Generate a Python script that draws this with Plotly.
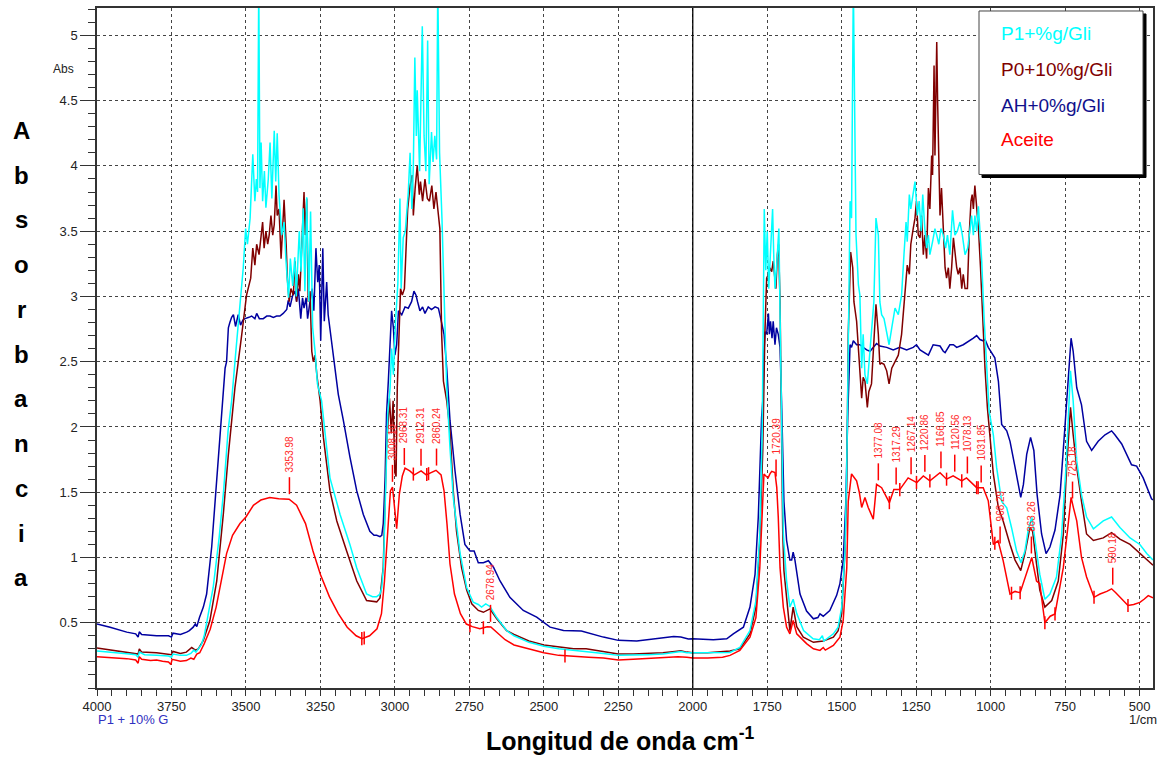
import numpy as np
import plotly.graph_objects as go

# ---------------- data (wavenumber cm-1, absorbance) ----------------
cyan_pts = [(4000,0.283),(3950,0.275),(3900,0.263),(3870,0.255),(3862,0.235),(3858,0.275),(3840,0.255),(3800,0.25),(3760,0.245),(3750,0.235),(3745,0.26),(3720,0.25),(3700,0.25),(3685,0.265),(3675,0.29),(3668,0.275),(3660,0.30),(3650,0.33),(3640,0.40),(3630,0.52),(3610,0.77),(3590,1.15),(3575,1.51),(3560,1.97),(3548,2.2),(3535,2.55),(3520,2.96),(3509,3.22),(3501,3.52),(3495,3.40),(3486,3.60),(3477,4.09),(3470,3.73),(3465,3.90),(3461,3.80),(3457,5.4),(3453,3.83),(3449,4.18),(3444,3.73),(3438,3.96),(3433,3.68),(3425,3.90),(3419,4.18),(3413,3.75),(3405,4.27),(3400,3.88),(3395,4.25),(3389,3.78),(3380,3.47),(3372,3.57),(3366,3.29),(3357,2.99),(3351,3.29),(3343,3.08),(3336,3.30),(3331,3.0),(3321,3.50),(3315,3.19),(3308,3.675),(3302,3.04),(3296,3.76),(3289,2.96),(3283,3.65),(3276,2.76),(3268,2.58),(3260,2.33),(3246,2.2),(3232,1.90),(3218,1.61),(3184,1.33),(3151,1.10),(3128,0.92),(3095,0.72),(3075,0.70),(3061,0.70),(3050,0.72),(3044,0.77),(3038,0.95),(3033,1.33),(3024,2.10),(3016,2.3),(3011,2.6),(3005,2.4),(2998,2.8),(2990,3.1),(2983,3.75),(2979,3.06),(2972,3.45),(2965,3.5),(2955,3.8),(2949,4.1),(2943,3.67),(2938,4.0),(2933,4.83),(2928,4.23),(2925,4.58),(2917,3.96),(2908,5.07),(2902,4.23),(2896,3.96),(2890,4.96),(2885,3.86),(2877,4.26),(2872,4.03),(2866,4.23),(2860,4.05),(2856,5.4),(2850,4.1),(2842,3.6),(2834,2.96),(2826,2.3),(2815,1.84),(2804,1.46),(2781,1.03),(2759,0.77),(2737,0.657),(2720,0.64),(2709,0.62),(2695,0.645),(2681,0.625),(2658,0.54),(2625,0.44),(2600,0.40),(2550,0.35),(2500,0.32),(2450,0.30),(2400,0.29),(2358,0.28),(2300,0.265),(2250,0.25),(2200,0.25),(2150,0.255),(2100,0.26),(2060,0.27),(2040,0.28),(2020,0.27),(2000,0.27),(1950,0.27),(1900,0.27),(1875,0.272),(1842,0.31),(1808,0.44),(1788,0.67),(1775,1.18),(1767,1.94),(1763,2.96),(1760,3.67),(1755,3.2),(1750,3.5),(1745,3.06),(1738,3.4),(1732,3.67),(1728,3.3),(1724,3.06),(1718,3.25),(1711,3.52),(1706,2.71),(1702,2.05),(1699,1.69),(1696,1.18),(1685,0.82),(1674,0.62),(1663,0.68),(1651,0.57),(1628,0.44),(1596,0.377),(1575,0.37),(1565,0.40),(1560,0.36),(1528,0.415),(1512,0.466),(1500,0.62),(1489,1.05),(1483,1.69),(1478,2.58),(1472,3.73),(1467,3.6),(1461,5.4),(1452,3.47),(1444,3.09),(1439,3.01),(1433,2.45),(1428,2.71),(1422,2.40),(1414,2.33),(1407,2.55),(1400,2.71),(1392,2.96),(1385,3.60),(1377,3.47),(1372,2.96),(1366,2.86),(1358,2.83),(1349,2.73),(1341,2.63),(1332,2.76),(1321,2.91),(1310,2.86),(1299,3.01),(1291,3.32),(1284,3.57),(1280,3.42),(1273,3.78),(1268,3.67),(1262,3.78),(1254,3.88),(1246,3.62),(1240,3.73),(1233,3.50),(1228,3.78),(1221,3.52),(1215,3.37),(1209,3.47),(1204,3.32),(1195,3.42),(1187,3.52),(1181,3.47),(1174,3.40),(1167,3.52),(1159,3.47),(1151,3.37),(1145,3.47),(1137,3.32),(1128,3.66),(1120,3.47),(1112,3.50),(1103,3.57),(1095,3.47),(1086,3.32),(1077,3.37),(1069,3.52),(1064,3.62),(1058,3.47),(1053,3.62),(1047,3.50),(1041,3.69),(1036,3.50),(1030,3.27),(1022,2.83),(1014,2.45),(1005,2.12),(991,1.94),(980,1.69),(963,1.43),(946,1.38),(930,1.23),(913,1.05),(898,0.96),(885,1.05),(874,1.21),(862,1.31),(851,1.13),(835,0.87),(818,0.68),(801,0.72),(779,0.85),(762,1.17),(747,1.69),(739,2.07),(732,2.43),(723,2.20),(711,1.74),(695,1.48),(678,1.31),(655,1.22),(622,1.28),(594,1.31),(566,1.23),(532,1.15),(499,1.10),(476,1.03),(455,0.98)]

brown_pts = [(4000,0.306),(3950,0.29),(3900,0.275),(3862,0.26),(3858,0.30),(3850,0.275),(3800,0.27),(3760,0.26),(3750,0.255),(3745,0.28),(3720,0.265),(3700,0.275),(3682,0.31),(3670,0.29),(3660,0.30),(3643,0.365),(3621,0.517),(3598,0.82),(3576,1.33),(3559,1.79),(3542,2.22),(3537,2.30),(3514,2.71),(3498,3.01),(3484,3.14),(3477,3.37),(3470,3.24),(3464,3.40),(3456,3.32),(3450,3.46),(3444,3.57),(3439,3.37),(3433,3.50),(3427,3.40),(3422,3.47),(3416,3.62),(3410,3.47),(3405,3.55),(3399,3.85),(3395,3.62),(3389,3.67),(3382,3.29),(3372,3.74),(3365,3.40),(3361,3.14),(3355,2.96),(3349,3.06),(3341,3.01),(3335,3.27),(3330,2.96),(3324,3.17),(3319,3.04),(3311,3.47),(3305,3.80),(3301,3.47),(3296,3.75),(3291,2.96),(3285,3.04),(3279,2.58),(3274,2.50),(3268,2.55),(3262,2.40),(3251,2.20),(3240,1.92),(3218,1.51),(3195,1.28),(3162,1.05),(3128,0.82),(3095,0.67),(3061,0.66),(3050,0.69),(3039,0.93),(3028,1.84),(3018,2.22),(3012,1.95),(3006,2.2),(3000,1.65),(2996,1.62),(2992,2.3),(2985,2.9),(2981,3.06),(2975,3.01),(2968,3.06),(2957,3.67),(2949,3.85),(2942,3.93),(2938,3.62),(2932,3.83),(2925,4.0),(2918,3.78),(2914,3.88),(2907,3.73),(2899,3.90),(2891,3.75),(2884,3.73),(2876,3.85),(2869,3.67),(2862,3.80),(2854,3.62),(2849,3.52),(2843,2.71),(2837,2.35),(2826,2.20),(2815,1.97),(2804,1.51),(2793,1.20),(2776,0.92),(2759,0.75),(2742,0.645),(2720,0.594),(2703,0.58),(2681,0.606),(2658,0.53),(2625,0.44),(2600,0.41),(2550,0.36),(2500,0.33),(2450,0.315),(2400,0.30),(2358,0.30),(2300,0.28),(2250,0.26),(2200,0.26),(2150,0.265),(2100,0.27),(2060,0.28),(2040,0.285),(2020,0.275),(2000,0.27),(1950,0.27),(1900,0.275),(1875,0.283),(1842,0.30),(1808,0.415),(1788,0.62),(1775,1.13),(1765,1.82),(1758,2.71),(1752,3.14),(1746,3.17),(1741,3.22),(1735,3.19),(1730,3.27),(1724,3.09),(1721,3.06),(1716,3.32),(1712,3.40),(1707,2.96),(1704,2.3),(1701,1.7),(1698,1.2),(1694,0.9),(1685,0.67),(1674,0.44),(1663,0.62),(1651,0.47),(1629,0.39),(1595,0.35),(1562,0.36),(1528,0.39),(1512,0.44),(1500,0.57),(1489,1.05),(1483,1.56),(1478,2.71),(1470,3.34),(1463,3.22),(1459,2.96),(1450,2.81),(1442,2.55),(1433,2.22),(1428,2.38),(1422,2.35),(1414,2.15),(1409,2.27),(1400,2.33),(1394,2.58),(1385,2.94),(1377,2.71),(1372,2.48),(1366,2.49),(1358,2.48),(1349,2.43),(1341,2.33),(1332,2.45),(1321,2.50),(1310,2.55),(1299,2.71),(1288,3.01),(1280,3.24),(1273,3.17),(1268,3.40),(1260,3.52),(1254,3.60),(1249,3.73),(1243,3.47),(1237,3.45),(1232,3.62),(1226,3.32),(1221,3.47),(1215,3.29),(1209,3.83),(1204,3.67),(1198,4.08),(1195,3.93),(1190,4.77),(1187,4.08),(1181,4.95),(1178,4.49),(1174,4.01),(1170,3.62),(1165,3.83),(1159,3.47),(1153,3.22),(1148,3.14),(1142,3.22),(1137,3.06),(1131,3.22),(1125,3.45),(1120,3.32),(1114,3.22),(1109,3.17),(1103,3.22),(1097,3.06),(1092,3.17),(1086,3.06),(1078,3.06),(1072,3.47),(1066,3.73),(1062,3.78),(1058,3.67),(1053,3.85),(1047,3.67),(1041,3.52),(1034,3.22),(1027,2.83),(1019,2.45),(1011,2.15),(1002,1.94),(991,1.64),(974,1.38),(958,1.28),(935,1.10),(918,0.98),(899,0.90),(885,1.03),(868,1.23),(859,1.20),(846,0.95),(835,0.75),(818,0.62),(795,0.67),(773,0.82),(756,1.18),(745,1.69),(732,2.15),(723,1.94),(711,1.69),(695,1.43),(678,1.18),(655,1.13),(622,1.15),(594,1.19),(566,1.14),(532,1.10),(499,1.03),(476,0.98),(455,0.94)]

blue_pts = [(4000,0.49),(3956,0.466),(3900,0.428),(3870,0.415),(3862,0.39),(3858,0.43),(3850,0.41),(3800,0.40),(3760,0.40),(3750,0.39),(3745,0.42),(3720,0.41),(3699,0.428),(3690,0.44),(3677,0.466),(3670,0.49),(3665,0.47),(3656,0.54),(3643,0.62),(3632,0.72),(3615,1.08),(3598,1.59),(3581,2.10),(3570,2.45),(3565,2.5),(3559,2.76),(3554,2.80),(3548,2.84),(3542,2.86),(3535,2.77),(3526,2.86),(3518,2.78),(3510,2.82),(3503,2.83),(3490,2.84),(3481,2.85),(3470,2.83),(3464,2.87),(3455,2.83),(3442,2.83),(3430,2.85),(3419,2.85),(3408,2.84),(3397,2.85),(3386,2.85),(3375,2.87),(3363,2.90),(3358,2.97),(3352,2.92),(3343,3.01),(3335,3.04),(3330,2.96),(3324,3.06),(3316,2.83),(3310,2.99),(3305,2.91),(3298,2.99),(3293,2.83),(3285,2.96),(3278,3.06),(3272,2.89),(3265,3.37),(3259,3.11),(3254,3.24),(3249,2.66),(3242,3.37),(3237,2.81),(3229,3.11),(3224,2.86),(3216,2.71),(3207,2.58),(3198,2.40),(3190,2.25),(3173,2.05),(3151,1.77),(3128,1.51),(3106,1.33),(3084,1.20),(3070,1.17),(3061,1.17),(3050,1.16),(3044,1.17),(3039,1.26),(3033,1.59),(3028,2.10),(3022,2.35),(3016,2.71),(3011,2.89),(3005,2.76),(3000,2.55),(2994,2.63),(2988,2.89),(2977,2.86),(2966,2.92),(2955,2.91),(2944,2.96),(2936,3.04),(2929,3.01),(2924,2.96),(2916,2.89),(2907,2.92),(2899,2.87),(2888,2.92),(2877,2.90),(2865,2.92),(2854,2.91),(2846,2.83),(2835,2.71),(2826,2.45),(2820,2.20),(2815,2.05),(2798,1.66),(2781,1.33),(2765,1.10),(2748,1.05),(2734,1.05),(2720,0.96),(2703,0.96),(2686,0.975),(2669,0.925),(2647,0.82),(2614,0.695),(2569,0.594),(2524,0.543),(2479,0.466),(2434,0.44),(2400,0.44),(2374,0.436),(2300,0.39),(2250,0.365),(2188,0.36),(2126,0.38),(2064,0.395),(2040,0.39),(2015,0.375),(2000,0.377),(1940,0.367),(1931,0.37),(1886,0.377),(1864,0.415),(1830,0.466),(1808,0.62),(1791,0.87),(1780,1.31),(1769,2.07),(1765,2.2),(1761,2.58),(1757,2.73),(1752,2.71),(1746,2.87),(1743,2.71),(1739,2.81),(1734,2.68),(1730,2.81),(1724,2.63),(1719,2.76),(1713,2.71),(1707,2.61),(1702,2.20),(1699,1.94),(1694,1.43),(1685,1.13),(1674,0.98),(1668,0.98),(1663,1.04),(1657,0.98),(1649,0.85),(1640,0.72),(1618,0.59),(1595,0.53),(1580,0.54),(1573,0.568),(1562,0.55),(1540,0.594),(1517,0.71),(1506,0.80),(1495,0.98),(1486,1.43),(1480,2.07),(1478,2.20),(1472,2.63),(1467,2.61),(1461,2.66),(1450,2.63),(1439,2.63),(1428,2.61),(1416,2.59),(1405,2.58),(1394,2.61),(1383,2.64),(1372,2.62),(1349,2.61),(1327,2.59),(1305,2.61),(1282,2.59),(1260,2.61),(1249,2.63),(1237,2.59),(1209,2.55),(1193,2.63),(1170,2.62),(1159,2.58),(1153,2.57),(1137,2.63),(1125,2.63),(1114,2.61),(1092,2.63),(1070,2.66),(1058,2.68),(1047,2.70),(1036,2.67),(1025,2.66),(1019,2.67),(1008,2.61),(997,2.57),(986,2.53),(974,2.35),(963,2.02),(946,1.97),(935,1.89),(918,1.69),(907,1.54),(899,1.46),(890,1.56),(879,1.79),(866,1.92),(855,1.82),(844,1.48),(829,1.18),(814,1.03),(801,1.08),(784,1.21),(767,1.48),(751,1.99),(739,2.40),(730,2.68),(723,2.58),(711,2.30),(695,2.17),(678,1.89),(661,1.82),(639,1.89),(616,1.94),(594,1.97),(583,1.94),(560,1.87),(527,1.71),(510,1.70),(488,1.61),(471,1.51),(460,1.45),(455,1.44)]

red_pts = [(4000,0.24),(3950,0.235),(3900,0.225),(3870,0.215),(3862,0.19),(3858,0.24),(3850,0.22),(3820,0.21),(3800,0.215),(3780,0.205),(3760,0.20),(3752,0.18),(3748,0.22),(3720,0.205),(3700,0.21),(3685,0.23),(3675,0.22),(3665,0.26),(3655,0.27),(3640,0.34),(3620,0.45),(3600,0.62),(3580,0.85),(3565,1.03),(3545,1.17),(3520,1.26),(3500,1.31),(3475,1.40),(3450,1.44),(3420,1.46),(3390,1.45),(3355,1.447),(3330,1.40),(3300,1.26),(3275,1.05),(3250,0.87),(3220,0.70),(3190,0.57),(3160,0.466),(3130,0.40),(3110,0.377),(3085,0.40),(3060,0.454),(3045,0.57),(3035,0.82),(3025,1.20),(3015,1.51),(3008,1.54),(3000,1.38),(2994,1.22),(2985,1.485),(2975,1.625),(2966,1.684),(2950,1.663),(2935,1.633),(2912,1.663),(2895,1.633),(2880,1.65),(2862,1.668),(2845,1.633),(2835,1.51),(2825,1.256),(2815,0.95),(2800,0.72),(2780,0.57),(2760,0.49),(2740,0.47),(2715,0.454),(2690,0.47),(2678,0.467),(2655,0.42),(2630,0.37),(2600,0.33),(2550,0.30),(2500,0.27),(2450,0.25),(2400,0.24),(2350,0.235),(2300,0.23),(2250,0.215),(2200,0.22),(2150,0.225),(2100,0.235),(2050,0.24),(2020,0.235),(2000,0.23),(1950,0.23),(1900,0.235),(1875,0.25),(1842,0.288),(1808,0.39),(1788,0.54),(1775,0.92),(1765,1.43),(1761,1.64),(1753,1.62),(1747,1.61),(1741,1.64),(1735,1.66),(1724,1.65),(1718,1.535),(1713,1.31),(1707,0.92),(1696,0.62),(1685,0.466),(1674,0.415),(1663,0.517),(1651,0.415),(1640,0.39),(1618,0.34),(1595,0.30),(1573,0.288),(1562,0.31),(1555,0.29),(1528,0.326),(1506,0.39),(1495,0.517),(1483,0.92),(1478,1.43),(1467,1.64),(1450,1.587),(1441,1.50),(1433,1.383),(1422,1.46),(1411,1.383),(1394,1.294),(1383,1.56),(1366,1.535),(1340,1.42),(1325,1.52),(1305,1.52),(1277,1.61),(1248,1.574),(1226,1.625),(1204,1.587),(1170,1.65),(1148,1.60),(1126,1.625),(1097,1.587),(1081,1.61),(1047,1.535),(1025,1.535),(1008,1.434),(1002,1.33),(991,1.10),(975,1.128),(958,0.976),(935,0.72),(918,0.74),(901,0.73),(879,0.874),(862,1.0),(846,0.82),(835,0.80),(818,0.50),(800,0.55),(784,0.568),(770,0.75),(756,0.924),(740,1.25),(730,1.46),(722,1.38),(711,1.28),(695,1.0),(678,0.85),(653,0.695),(633,0.72),(610,0.74),(594,0.76),(580,0.73),(566,0.695),(550,0.66),(539,0.632),(520,0.64),(499,0.656),(485,0.68),(471,0.708),(455,0.69)]

series_names = ["P1+%g/Gli", "P0+10%g/Gli", "AH+0%g/Gli", "Aceite"]

peak_wn = [3353.98, 3008.10, 2968.31, 2912.31, 2860.24, 2678.94, 1720.39, 1377.08, 1317.29,
           1267.14, 1220.86, 1166.85, 1120.56, 1078.13, 1031.85, 968.29, 863.26, 725.18, 590.18]
peak_txt = ["3353.98", "3008.10", "2968.31", "2912.31", "2860.24", "2678.94", "1720.39", "1377.08", "1317.29",
            "1267.14", "1220.86", "1166.85", "1120.56", "1078.13", "1031.85", "968.29", "863.26", "725.18", "590.18"]
valley_wn = [3111, 3103, 2938, 2893, 2887, 2748, 2703, 2429, 1340, 1305, 1249, 1204, 1148, 1097,
             1047, 1042, 986, 930, 901, 818, 784, 653, 539]

x_ticks = [4000, 3750, 3500, 3250, 3000, 2750, 2500, 2250, 2000, 1750, 1500, 1250, 1000, 750, 500]
y_ticks = [0.5, 1, 1.5, 2, 2.5, 3, 3.5, 4, 4.5, 5]
y_ticktext = ["0.5", "1", "1.5", "2", "2.5", "3", "3.5", "4", "4.5", "5"]

# ---------------- figure ----------------
FONT = "Liberation Sans, Arial, sans-serif"
colors = {"P1+%g/Gli": "#00FFFF", "P0+10%g/Gli": "#800000", "AH+0%g/Gli": "#0000A0", "Aceite": "#FF0000"}
data_map = {"P1+%g/Gli": cyan_pts, "P0+10%g/Gli": brown_pts, "AH+0%g/Gli": blue_pts, "Aceite": red_pts}

fig = go.Figure()
for name in ["AH+0%g/Gli", "P0+10%g/Gli", "P1+%g/Gli", "Aceite"]:
    pts = data_map[name]
    fig.add_trace(go.Scatter(x=[p[0] for p in pts], y=[p[1] for p in pts], mode="lines",
                             name=name, line=dict(color=colors[name], width=1.5),
                             showlegend=False, hoverinfo="skip"))

rx = np.array([p[0] for p in red_pts])[::-1]
ry = np.array([p[1] for p in red_pts])[::-1]

def red_at(w):
    return float(np.interp(w, rx, ry))

shapes = []
annotations = []
RED_LBL = "#FF2A2A"
for w, t in zip(peak_wn, peak_txt):
    yc = red_at(w)
    shapes.append(dict(type="line", xref="x", yref="y", x0=w, x1=w, y0=yc + 0.04, y1=yc + 0.17,
                       line=dict(color="#FF0000", width=1.5)))
    annotations.append(dict(x=w, y=yc + 0.19, xref="x", yref="y", text=t, textangle=-90,
                            showarrow=False, xanchor="center", yanchor="bottom",
                            font=dict(family=FONT, size=10, color=RED_LBL)))
for w in valley_wn:
    yc = red_at(w)
    shapes.append(dict(type="line", xref="x", yref="y", x0=w, x1=w, y0=yc - 0.05, y1=yc + 0.05,
                       line=dict(color="#FF0000", width=1.5)))

# solid divider at 2000
shapes.append(dict(type="line", xref="x", yref="paper", x0=2000, x1=2000, y0=0, y1=1,
                   line=dict(color="#000000", width=1.3), layer="above"))

# legend box (paper coords derived from pixel layout)
W, H = 1161, 758
L, R, T, B = 97, 8, 6, 70
pw, ph = W - L - R, H - T - B
def px(xp):
    return (xp - L) / pw
def py(yp):
    return (H - B - yp) / ph

shapes.append(dict(type="rect", xref="paper", yref="paper", x0=px(982), x1=px(1146), y0=py(176), y1=py(12),
                   fillcolor="#000000", line=dict(color="#000000", width=1)))
shapes.append(dict(type="rect", xref="paper", yref="paper", x0=px(979), x1=px(1143), y0=py(173), y1=py(9),
                   fillcolor="#FFFFFF", line=dict(color="#444444", width=1)))
leg_y = [32, 68, 104, 138]
for name, yy in zip(series_names, leg_y):
    annotations.append(dict(x=px(999), y=py(yy), xref="paper", yref="paper", text=name, showarrow=False,
                            xanchor="left", yanchor="middle",
                            font=dict(family=FONT, size=19, color=colors[name] if name != "AH+0%g/Gli" else "#10108C")))

# y-axis title as stacked letters
for i, ch in enumerate("Absorbancia"):
    annotations.append(dict(x=px(21), y=py(128.6 + 44.9 * i), xref="paper", yref="paper", text="<b>%s</b>" % ch,
                            showarrow=False, xanchor="center", yanchor="middle",
                            font=dict(family=FONT, size=24, color="#000000")))
annotations.append(dict(x=px(76), y=py(67), xref="paper", yref="paper", text="Abs", showarrow=False,
                        xanchor="right", yanchor="middle", font=dict(family=FONT, size=12, color="#222222")))
annotations.append(dict(x=px(96), y=py(720), xref="paper", yref="paper", text="P1 + 10% G", showarrow=False,
                        xanchor="left", yanchor="middle", font=dict(family=FONT, size=13, color="#3030C0")))
annotations.append(dict(x=px(1159), y=py(720), xref="paper", yref="paper", text="1/cm", showarrow=False,
                        xanchor="right", yanchor="middle", font=dict(family=FONT, size=13, color="#222222")))
annotations.append(dict(x=px(620), y=py(739), xref="paper", yref="paper",
                        text="<b>Longitud de onda cm<sup>-1</sup></b>", showarrow=False,
                        xanchor="center", yanchor="middle", font=dict(family=FONT, size=25, color="#000000")))

fig.update_layout(
    width=W, height=H, autosize=False,
    margin=dict(l=L, r=R, t=T, b=B),
    paper_bgcolor="white", plot_bgcolor="white",
    font=dict(family=FONT, size=13, color="#222222"),
    shapes=shapes, annotations=annotations, showlegend=False,
)
fig.update_xaxes(range=[4000, 455], tickmode="array", tickvals=x_ticks,
                 ticks="outside", ticklen=6, tickwidth=1, tickcolor="#333",
                 showgrid=True, gridcolor="#444", griddash="dot", gridwidth=1,
                 showline=True, linecolor="#333", linewidth=1.5, mirror=True, zeroline=False,
                 minor=dict(tickmode="linear", tick0=0, dtick=50, ticklen=6, tickcolor="#333", showgrid=False),
                 tickfont=dict(family=FONT, size=13, color="#222"))
fig.update_yaxes(range=[0, 5.21], tickmode="array", tickvals=y_ticks, ticktext=y_ticktext,
                 ticks="outside", ticklen=15, tickwidth=1, tickcolor="#333",
                 showgrid=True, gridcolor="#444", griddash="dot", gridwidth=1,
                 showline=True, linecolor="#333", linewidth=1.5, mirror=True, zeroline=False,
                 minor=dict(tickmode="linear", tick0=0, dtick=0.1, ticklen=7, tickcolor="#333", showgrid=False),
                 tickfont=dict(family=FONT, size=13, color="#222"))

fig.write_html("out.html", config={"displayModeBar": False},
               post_script="document.body.style.margin='0';document.body.style.overflow='hidden';"
                           "document.documentElement.style.overflow='hidden';")
